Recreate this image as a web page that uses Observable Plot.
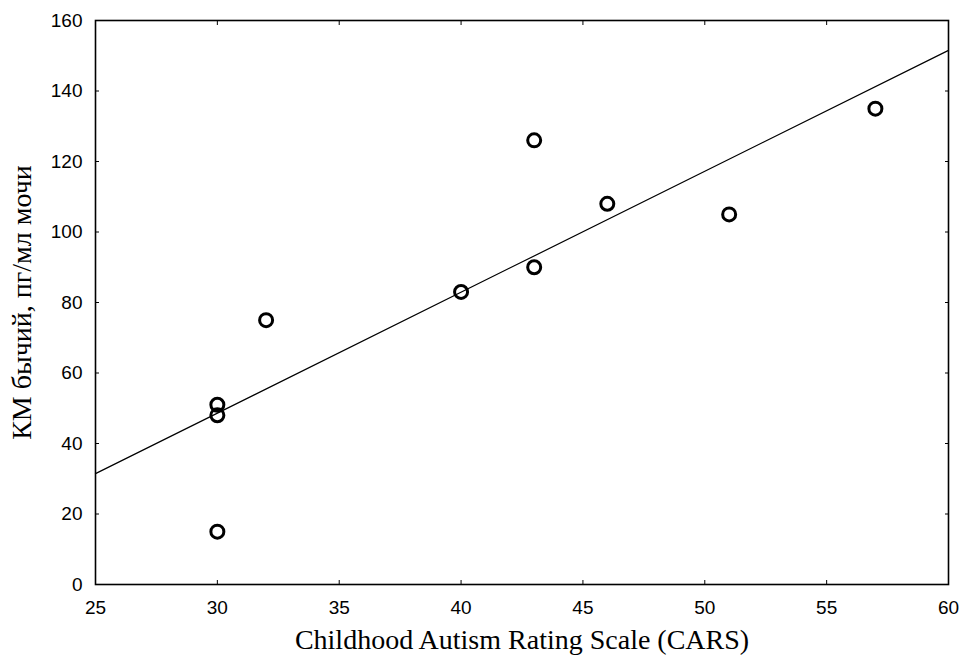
<!DOCTYPE html>
<html>
<head>
<meta charset="utf-8">
<script src="https://cdn.jsdelivr.net/npm/d3@7"></script>
<script src="https://cdn.jsdelivr.net/npm/@observablehq/plot@0.6"></script>
<style>
  html, body { margin: 0; padding: 0; background: #fff; }
  #chart { width: 960px; height: 660px; }
</style>
</head>
<body>
<div id="chart"></div>
<script>
// Data
const cars = [30, 30, 30, 32, 40, 43, 43, 46, 51, 57];
const km   = [15, 48, 51, 75, 83, 90, 126, 108, 105, 135];
const xTicks = [25, 30, 35, 40, 45, 50, 55, 60];
const yTicks = [0, 20, 40, 60, 80, 100, 120, 140, 160];
const xTitle = "Childhood Autism Rating Scale (CARS)";
const yTitle = "КМ бычий, пг/мл мочи";

const points = cars.map((x, i) => ({x, y: km[i]}));

// least-squares fit, evaluated over the x domain
const mx = d3.mean(cars), my = d3.mean(km);
const slope = d3.sum(points, d => (d.x - mx) * (d.y - my)) / d3.sum(points, d => (d.x - mx) ** 2);
const icept = my - slope * mx;
const xDomain = [xTicks[0], xTicks[xTicks.length - 1]];
const fit = xDomain.map(x => ({x, y: icept + slope * x}));

const serif = "'Liberation Serif', 'Times New Roman', serif";

const chart = Plot.plot({
  width: 960,
  height: 660,
  marginLeft: 95,
  marginRight: 12,
  marginTop: 20,
  marginBottom: 76,
  style: {fontFamily: "'Liberation Sans', Arial, sans-serif", fontSize: "19px", color: "#000", background: "#fff"},
  x: {domain: xDomain},
  y: {domain: [yTicks[0], yTicks[yTicks.length - 1]]},
  marks: [
    Plot.axisX({ticks: xTicks, tickSize: -4, tickPadding: 20, label: null, anchor: "bottom"}),
    Plot.axisX({ticks: xTicks, tickSize: -4, tickFormat: () => "", label: null, anchor: "top"}),
    Plot.axisY({ticks: yTicks, tickSize: -4, tickPadding: 17, label: null, anchor: "left"}),
    Plot.axisY({ticks: yTicks, tickSize: -4, tickFormat: () => "", label: null, anchor: "right"}),
    Plot.frame({stroke: "#000", strokeWidth: 1.6}),
    Plot.line(fit, {x: "x", y: "y", stroke: "#000", strokeWidth: 1.2}),
    Plot.dot(points, {x: "x", y: "y", r: 6.5, stroke: "#000", strokeWidth: 3, fill: "none"}),
    Plot.text([xTitle], {frameAnchor: "bottom", dy: 64, text: d => d, fontSize: 28, fontFamily: serif, fill: "#000", textAnchor: "middle"}),
    Plot.text([yTitle], {frameAnchor: "left", dx: -73, rotate: -90, text: d => d, fontSize: 28, fontFamily: serif, fill: "#000", textAnchor: "middle"})
  ]
});
document.getElementById("chart").appendChild(chart);
</script>
</body>
</html>
